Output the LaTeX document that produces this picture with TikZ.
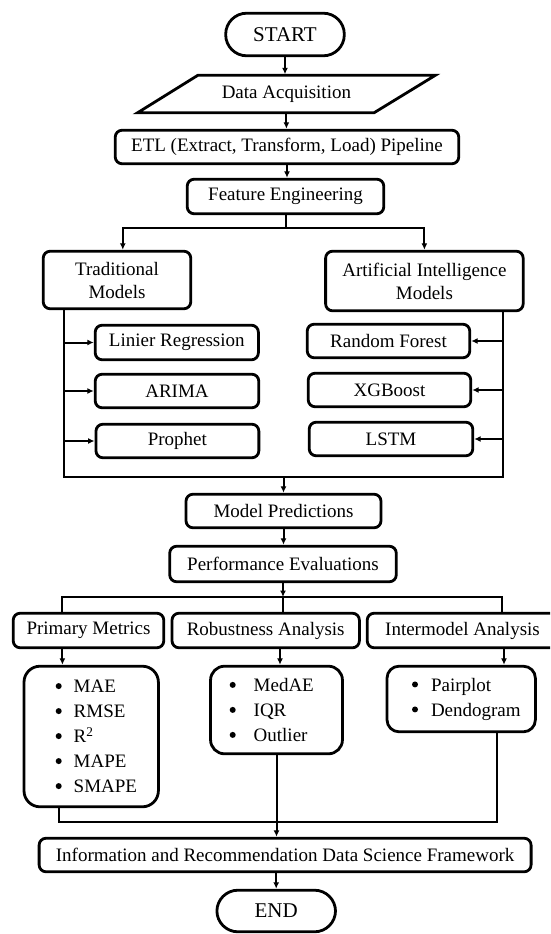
\documentclass[tikz,border=0pt]{standalone}
\usepackage{fontspec}
\setmainfont{Liberation Serif}
\usetikzlibrary{arrows.meta,calc}
\newcommand\fs{\fontsize{19}{23}\selectfont}
\newcommand\fsb{\fontsize{21}{25}\selectfont}
\newcommand\fsl{\fontsize{19}{25}\selectfont}
\newcommand\bul[1]{\makebox[#1pt][l]{\raisebox{3.6pt}{\tikz\fill (0,0) circle (3pt);}}}
\tikzset{
  box/.style={draw, line width=2.8pt, rounded corners=7pt, align=center, inner sep=0pt, font=\fs},
  term/.style={box, rounded corners=21pt, font=\fsb},
  listbox/.style={box, align=left, font=\fsl},
  plain/.style={align=center, inner sep=0pt, font=\fs},
  conn/.style={line width=2pt},
  arr/.style={conn, -{Latex[length=6.5pt,width=6pt]}},
}
\begin{document}
\begin{tikzpicture}[x=1pt,y=-1pt]
\clip (0,0) rectangle (550,934);
% top chain
\node[term, minimum width=118.6pt, minimum height=42.6pt] (start) at (285,34.5) {START};
\node[plain, minimum width=200pt, minimum height=39pt] (data) at (286.4,94) {Data Acquisition};
\draw[line width=2.8pt] (198,75.2) -- (435.5,75.2) -- (374,112.8) -- (137.5,112.8) -- cycle;
\node[box, minimum width=343.6pt, minimum height=33.6pt] (etl) at (287,147) {ETL (Extract, Transform, Load) Pipeline};
\node[box, minimum width=196.6pt, minimum height=34.6pt] (fe) at (285.5,196.5) {Feature Engineering};
% model groups
\node[box, minimum width=147.6pt, minimum height=57.6pt] (trad) at (117,280) {Traditional\\Models};
\node[box, minimum width=197.6pt, minimum height=59.6pt] (ai) at (424.4,281) {Artificial Intelligence\\Models};
\node[box, minimum width=163.2pt, minimum height=34.6pt] (lr) at (176.8,342.5) {Linier Regression};
\node[box, minimum width=163.6pt, minimum height=33.6pt] (arima) at (177,391) {ARIMA};
\node[box, minimum width=162.9pt, minimum height=33.6pt] (prophet) at (177.4,441) {Prophet};
\node[box, minimum width=162.6pt, minimum height=33.6pt] (rf) at (388.5,341) {Random Forest};
\node[box, minimum width=162.6pt, minimum height=33.6pt] (xgb) at (389.5,390) {XGBoost};
\node[box, minimum width=163.6pt, minimum height=33.6pt] (lstm) at (391,439) {LSTM};
% predictions and evaluation
\node[box, minimum width=195pt, minimum height=33.6pt] (mp) at (283.5,511) {Model Predictions};
\node[box, minimum width=226.6pt, minimum height=35.6pt] (pe) at (283,564) {Performance Evaluations};
\node[box, minimum width=150.6pt, minimum height=34.6pt] (pm) at (88.5,630.5) {Primary Metrics};
\node[box, minimum width=187.4pt, minimum height=34.6pt] (ra) at (265.7,630.5) {Robustness Analysis};
\node[box, minimum width=190.6pt, minimum height=34.6pt] (ia) at (462.5,630.5) {Intermodel Analysis};
\node[listbox, rounded corners=16pt, minimum width=134.4pt, minimum height=140.6pt, text width=71pt] (mae) at (91.2,736.5)
  {\bul{18}MAE\\\bul{18}RMSE\\\bul{18}R\textsuperscript{2}\\\bul{18}MAPE\\\bul{18}SMAPE};
\node[listbox, rounded corners=14pt, minimum width=131.9pt, minimum height=87.6pt, text width=93.6pt] (medae) at (276.5,710)
  {\bul{24}MedAE\\\bul{24}IQR\\\bul{24}Outlier};
\node[listbox, rounded corners=12pt, minimum width=148.4pt, minimum height=65.6pt, text width=98.4pt] (pair) at (461.2,699)
  {\bul{19}Pairplot\\\bul{19}Dendogram};
\node[box, minimum width=492pt, minimum height=33.6pt] (info) at (285.1,855) {Information and Recommendation Data Science Framework};
\node[term, minimum width=118.6pt, minimum height=41.6pt] (end) at (276.2,911) {END};
% connectors: top chain
\draw[arr] (start.south) -- (start.south |- data.north);
\draw[arr] (data.south) -- (data.south |- etl.north);
\draw[arr] (etl.south) -- (etl.south |- fe.north);
\coordinate (fb) at (285.5,228);
\draw[conn] (fe.south) -- (fb);
\draw[arr] (fb) -| ([xshift=5.8pt]trad.north);
\draw[arr] (fb) -| (ai.north);
% model buses
\coordinate (lb) at (64.2,477);
\coordinate (rb) at (502.6,477);
\draw[conn] (trad.south -| lb) -- (lb) -- (rb) -- (ai.south -| rb);
\draw[arr] (lb |- lr.west) -- (lr.west);
\draw[arr] (lb |- arima.west) -- (arima.west);
\draw[arr] (lb |- prophet.west) -- (prophet.west);
\draw[arr] (rb |- rf.east) -- (rf.east);
\draw[arr] (rb |- xgb.east) -- (xgb.east);
\draw[arr] (rb |- lstm.east) -- (lstm.east);
\draw[arr] (lb -| mp.north) -- (mp.north);
\draw[arr] (mp.south) -- (mp.south |- pe.north);
% evaluation branches
\coordinate (pb) at (283,597);
\coordinate (pl) at (62.4,597);
\coordinate (pr) at (501.6,597);
\draw[arr] (pe.south) -- (pb);
\draw[conn] (pl |- pm.north) -- (pl) -- (pr) -- (pr |- ia.north);
\draw[conn] (pb) -- (pb |- ra.north);
\draw[arr] (pm.south -| pl) -- (pl |- mae.north);
\draw[arr] ([xshift=14.3pt]ra.south) -- ([xshift=14.3pt]ra.south |- medae.north);
\draw[arr] ([xshift=41.5pt]ia.south) -- ([xshift=41.5pt]ia.south |- pair.north);
% bottom merge
\coordinate (bl) at (59,822);
\coordinate (br) at (497.4,822);
\draw[conn] (mae.south -| bl) -- (bl) -- (br) -- (pair.south -| br);
\draw[arr] (medae.south) -- (medae.south |- info.north);
\draw[arr] (info.south -| end.north) -- (end.north);
\end{tikzpicture}
\end{document}
